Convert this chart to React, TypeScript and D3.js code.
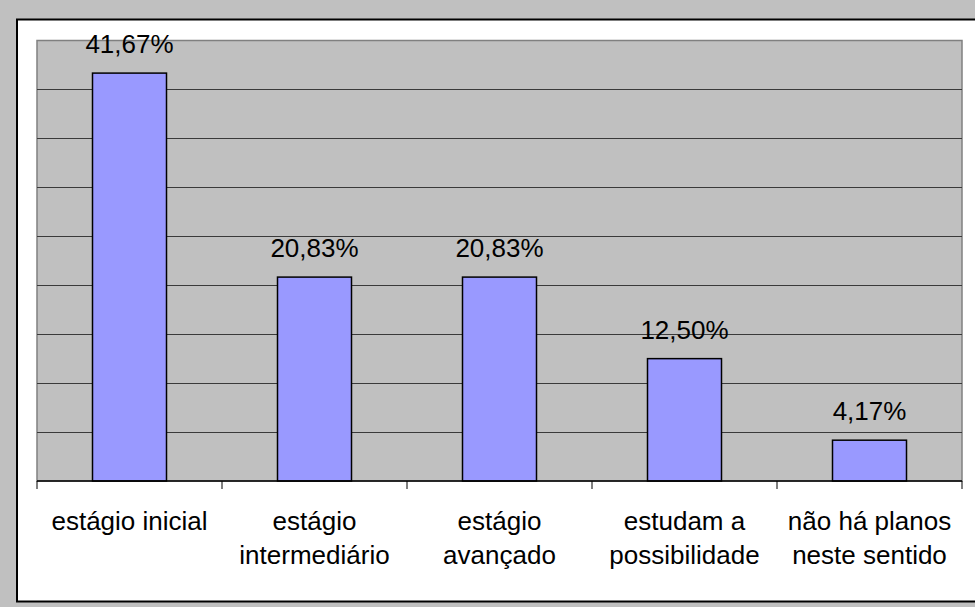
import { useEffect } from "react";
import * as d3 from "d3";

// categories (split across lines as in the original), values in %
const categories = [
  "estágio inicial",
  "estágio intermediário",
  "estágio avançado",
  "estudam a possibilidade",
  "não há planos neste sentido",
];
const categoryLines = [
  ["estágio inicial"],
  ["estágio", "intermediário"],
  ["estágio", "avançado"],
  ["estudam a", "possibilidade"],
  ["não há planos", "neste sentido"],
];
const values = [41.67, 20.83, 20.83, 12.5, 4.17];
const yTicks = [0, 5, 10, 15, 20, 25, 30, 35, 40, 45];

const fmt = (v: number) => v.toFixed(2).replace(".", ",") + "%";

export default function App() {
  const width = 975;
  const height = 607;
  const marginLeft = 37;
  const marginRight = 13;
  const marginTop = 40.5;
  const plotBottom = 481;
  const font = "'Liberation Sans', Arial, sans-serif";

  useEffect(() => {
    document.body.style.margin = "0";
  }, []);

  const x = d3.scaleBand()
    .domain(categories)
    .range([marginLeft, width - marginRight])
    .paddingInner(0.6)
    .paddingOuter(0.3);

  const y = d3.scaleLinear()
    .domain([0, 45])
    .range([plotBottom, marginTop]);

  const step = x.step();
  // category boundaries for the tick marks
  const bounds = categories.map(c => x(c)! - step * 0.3).concat([width - marginRight]);

  return (
    <svg width={width} height={height} style={{ display: "block" }}>
      <rect x={0} y={0} width={width} height={height} fill="#c0c0c0" />
      <rect x={17} y={19.5} width={width + 20} height={582} fill="#fff" stroke="#000" strokeWidth={2} />

      {/* plot area */}
      <rect x={marginLeft} y={marginTop} width={width - marginRight - marginLeft} height={plotBottom - marginTop}
        fill="#c0c0c0" stroke="#808080" strokeWidth={1.5} />

      {yTicks.slice(1, -1).map(t => (
        <line key={t} x1={marginLeft} x2={width - marginRight} y1={Math.round(y(t)) + 0.5} y2={Math.round(y(t)) + 0.5}
          stroke="#3a3a3a" strokeWidth={1} />
      ))}

      {values.map((v, i) => (
        <rect key={i} x={x(categories[i])} y={y(v)} width={x.bandwidth()} height={plotBottom - y(v)}
          fill="#9999ff" stroke="#000" strokeWidth={1.5} />
      ))}

      {/* x axis */}
      <line x1={marginLeft} x2={width - marginRight} y1={plotBottom} y2={plotBottom} stroke="#000" strokeWidth={1.5} />
      {bounds.map((b, i) => (
        <line key={i} x1={b} x2={b} y1={plotBottom} y2={plotBottom + 8} stroke="#000" strokeWidth={1} />
      ))}

      {values.map((v, i) => (
        <text key={i} x={x(categories[i])! + x.bandwidth() / 2} y={y(v) - 20} textAnchor="middle"
          fontFamily={font} fontSize={26} fill="#000">{fmt(v)}</text>
      ))}

      {categoryLines.map((lines, i) => (
        <text key={i} x={x(categories[i])! + x.bandwidth() / 2} y={530} textAnchor="middle"
          fontFamily={font} fontSize={26} fill="#000">
          {lines.map((l, j) => (
            <tspan key={j} x={x(categories[i])! + x.bandwidth() / 2} dy={j === 0 ? 0 : 33.5}>{l}</tspan>
          ))}
        </text>
      ))}
    </svg>
  );
}
